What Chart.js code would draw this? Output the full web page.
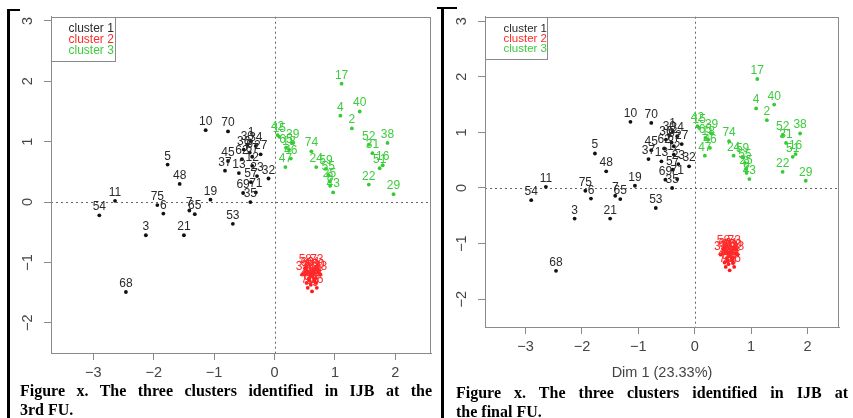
<!DOCTYPE html>
<html lang="en">
<head>
    <meta charset="UTF-8" />
    <title>Clusters in IJB</title>
    <script src="https://cdn.jsdelivr.net/npm/chart.js"></script>
    <style>
        body { margin: 0; width: 853px; height: 418px; background: #fff; position: relative; overflow: hidden; }
        .box { position: absolute; }
        .bar { position: absolute; background: #000; }
        .cap { position: absolute; font: bold 16px "Liberation Serif", "Times New Roman", serif; line-height: 19px; color: #000; }
        .cap .l1 { text-align: justify; text-align-last: justify; }
    </style>
</head>
<body>
    <div class="bar" style="left:7px; top:9px; width:3px; height:409px;"></div>
    <div class="bar" style="left:7px; top:9px; width:13px; height:2px;"></div>
    <div class="bar" style="left:441px; top:7px; width:3px; height:411px;"></div>
    <div class="bar" style="left:437px; top:7px; width:20px; height:2px;"></div>

    <div class="box" style="left:8px; top:0px; width:427px; height:383px;"><canvas id="chartA"></canvas></div>
    <div class="box" style="left:442px; top:0px; width:401px; height:382px;"><canvas id="chartB"></canvas></div>

    <div class="cap" style="left:20px; top:381px; width:412px;">
        <div class="l1">Figure x. The three clusters identified in IJB at the</div>
        <div>3rd FU.</div>
    </div>
    <div class="cap" style="left:456px; top:383px; width:392px;">
        <div class="l1">Figure x. The three clusters identified in IJB at</div>
        <div>the final FU.</div>
    </div>

    <script>
        // cluster 1 (black)
        const c1Names = ["10","70","5","48","11","54","75","6","7","65","19","3","21","53","68",
                         "1","36","30","34","9","27","67","45","62","37","13","12","23","32","57","69","71","35"];
        const c1X = [-1.14,-0.77,-1.77,-1.57,-2.64,-2.90,-1.94,-1.84,-1.41,-1.32,-1.06,-2.13,-1.50,-0.69,-2.46,
                     -0.39,-0.51,-0.45,-0.31,-0.41,-0.23,-0.37,-0.77,-0.54,-0.82,-0.59,-0.37,-0.29,-0.10,-0.39,-0.52,-0.31,-0.40];
        const c1Y = [1.19,1.17,0.62,0.30,0.02,-0.22,-0.05,-0.19,-0.14,-0.20,0.04,-0.55,-0.55,-0.36,-1.49,
                     1.01,0.87,0.95,0.93,0.82,0.79,0.75,0.68,0.71,0.52,0.48,0.60,0.43,0.39,0.33,0.15,0.16,0.00];

        // cluster 2 (red)
        const c2Names = ["60","66","61","63","20","44","56","14","49","26","33","28","34","58","73","41","72","76","64","50"];
        const c2X = [0.54,0.60,0.65,0.62,0.57,0.53,0.60,0.68,0.62,0.70,0.46,0.76,0.68,0.51,0.70,0.58,0.64,0.55,0.66,0.72];
        const c2Y = [-1.15,-1.17,-1.15,-1.23,-1.26,-1.34,-1.37,-1.34,-1.48,-1.42,-1.20,-1.20,-1.26,-1.09,-1.09,-1.30,-1.19,-1.42,-1.30,-1.17];

        // cluster 3 (green)
        const c3Names = ["17","4","40","2","52","38","31","16","51","22","29","74","24","59","55","25","8","43",
                         "42","15","39","18","46","47","65"];
        const c3X = [1.11,1.09,1.41,1.28,1.56,1.87,1.62,1.79,1.74,1.56,1.97,0.61,0.69,0.85,0.89,0.91,0.92,0.97,
                     0.05,0.08,0.30,0.24,0.27,0.18,0.19];
        const c3Y = [1.96,1.43,1.50,1.22,0.95,0.98,0.81,0.61,0.56,0.29,0.13,0.84,0.58,0.55,0.45,0.34,0.27,0.16,
                     1.11,1.08,0.98,0.87,0.72,0.58,0.90];

        const legendNames = ["cluster 1", "cluster 2", "cluster 3"];
        const xTicks = [-3, -2, -1, 0, 1, 2];
        const yTicks = [-2, -1, 0, 1, 2, 3];
        const xTitle = "Dim 1 (23.33%)";

        const colors = ["#111111", "#ff1a1a", "#33cc33"];
        const textColors = ["#2a2a2a", "#ff2a2a", "#3ccc3c"];
        const font = '"Liberation Sans", Arial, sans-serif';
        const axisGray = "#8a8a8a";

        function toPoints(xs, ys) {
            return xs.map((x, i) => ({ x: x, y: ys[i] }));
        }

        // R prints a real minus sign
        function tickText(v) {
            return v < 0 ? "\u2212" + Math.abs(v) : String(v);
        }

        // box round the plot and the dotted zero lines
        const framePlugin = {
            id: "frame",
            beforeDatasetsDraw(chart) {
                const ctx = chart.ctx;
                const a = chart.chartArea;
                const x0 = Math.round(chart.scales.x.getPixelForValue(0)) + 0.5;
                const y0 = Math.round(chart.scales.y.getPixelForValue(0)) + 0.5;
                ctx.save();
                ctx.strokeStyle = "#666";
                ctx.lineWidth = 1;
                ctx.setLineDash([2, 3]);
                ctx.beginPath();
                ctx.moveTo(x0, a.top); ctx.lineTo(x0, a.bottom);
                ctx.moveTo(a.left, y0); ctx.lineTo(a.right, y0);
                ctx.stroke();
                ctx.setLineDash([]);
                ctx.strokeStyle = axisGray;
                ctx.strokeRect(Math.round(a.left) + 0.5, Math.round(a.top) + 0.5,
                               Math.round(a.right - a.left) - 1, Math.round(a.bottom - a.top));
                ctx.restore();
            }
        };

        // the number above each point
        const namesPlugin = {
            id: "names",
            afterDatasetsDraw(chart) {
                const ctx = chart.ctx;
                ctx.save();
                ctx.font = "12px " + font;
                ctx.textAlign = "center";
                ctx.textBaseline = "alphabetic";
                chart.data.datasets.forEach((ds, i) => {
                    ctx.fillStyle = textColors[i];
                    chart.getDatasetMeta(i).data.forEach((pt, j) => {
                        ctx.fillText(ds.names[j], pt.x, pt.y - 5);
                    });
                });
                ctx.restore();
            }
        };

        // R style legend box in the top left corner
        const legendPlugin = {
            id: "boxLegend",
            afterDraw(chart, args, opts) {
                const ctx = chart.ctx;
                const a = chart.chartArea;
                const left = Math.round(a.left) + 0.5, top = Math.round(a.top) + 0.5;
                ctx.save();
                ctx.strokeStyle = axisGray;
                ctx.strokeRect(left, top, opts.w, opts.h);
                ctx.font = opts.size + "px " + font;
                ctx.textBaseline = "middle";
                legendNames.forEach((name, i) => {
                    ctx.fillStyle = textColors[i];
                    ctx.fillText(name, left + opts.pad, top + opts.first + i * opts.step);
                });
                ctx.restore();
            }
        };

        function makeChart(id, cfg) {
            return new Chart(document.getElementById(id), {
                type: "scatter",
                data: {
                    datasets: [
                        { data: toPoints(c1X, c1Y), names: c1Names, backgroundColor: colors[0], borderWidth: 0, pointRadius: 1.9 },
                        { data: toPoints(c2X, c2Y), names: c2Names, backgroundColor: colors[1], borderWidth: 0, pointRadius: 1.9 },
                        { data: toPoints(c3X, c3Y), names: c3Names, backgroundColor: colors[2], borderWidth: 0, pointRadius: 1.9 }
                    ]
                },
                options: {
                    responsive: true,
                    maintainAspectRatio: false,
                    animation: false,
                    devicePixelRatio: 1,
                    layout: { padding: { top: cfg.top, left: 0, right: 0, bottom: 0 } },
                    plugins: {
                        legend: { display: false },
                        tooltip: { enabled: false },
                        boxLegend: cfg.legend
                    },
                    scales: {
                        x: {
                            type: "linear",
                            min: cfg.xMin, max: cfg.xMax,
                            afterBuildTicks: s => { s.ticks = xTicks.map(v => ({ value: v })); },
                            afterFit: s => { s.height = cfg.xH; },
                            grid: { drawOnChartArea: false, tickLength: 7, color: axisGray },
                            border: { color: axisGray },
                            ticks: { autoSkip: false, color: "#444", padding: 4, callback: tickText,
                                     font: { size: 14.5, family: font } },
                            title: { display: cfg.showTitle, text: xTitle, color: "#444",
                                     font: { size: 14.5, family: font }, padding: { top: 0, bottom: 0 } }
                        },
                        y: {
                            type: "linear",
                            min: cfg.yMin, max: cfg.yMax,
                            afterBuildTicks: s => { s.ticks = yTicks.map(v => ({ value: v })); },
                            afterFit: s => { s.width = 43; },
                            grid: { drawOnChartArea: false, tickLength: 7, color: axisGray },
                            border: { color: axisGray },
                            ticks: { autoSkip: false, color: "#444", padding: 8, minRotation: 90, maxRotation: 90,
                                     crossAlign: "center", callback: tickText, font: { size: 14.5, family: font } }
                        }
                    }
                },
                plugins: [framePlugin, namesPlugin, legendPlugin]
            });
        }

        makeChart("chartA", {
            top: 13, xMin: -3.7, xMax: 2.59, yMin: -2.5, yMax: 3.07, xH: 30, showTitle: false,
            legend: { w: 64, h: 44, pad: 17, first: 11, step: 11, size: 12 }
        });
        makeChart("chartB", {
            top: 12, xMin: -3.72, xMax: 2.56, yMin: -2.5, yMax: 3.08, xH: 55, showTitle: true,
            legend: { w: 62, h: 42, pad: 18, first: 11, step: 10.3, size: 11.5 }
        });
    </script>
</body>
</html>
